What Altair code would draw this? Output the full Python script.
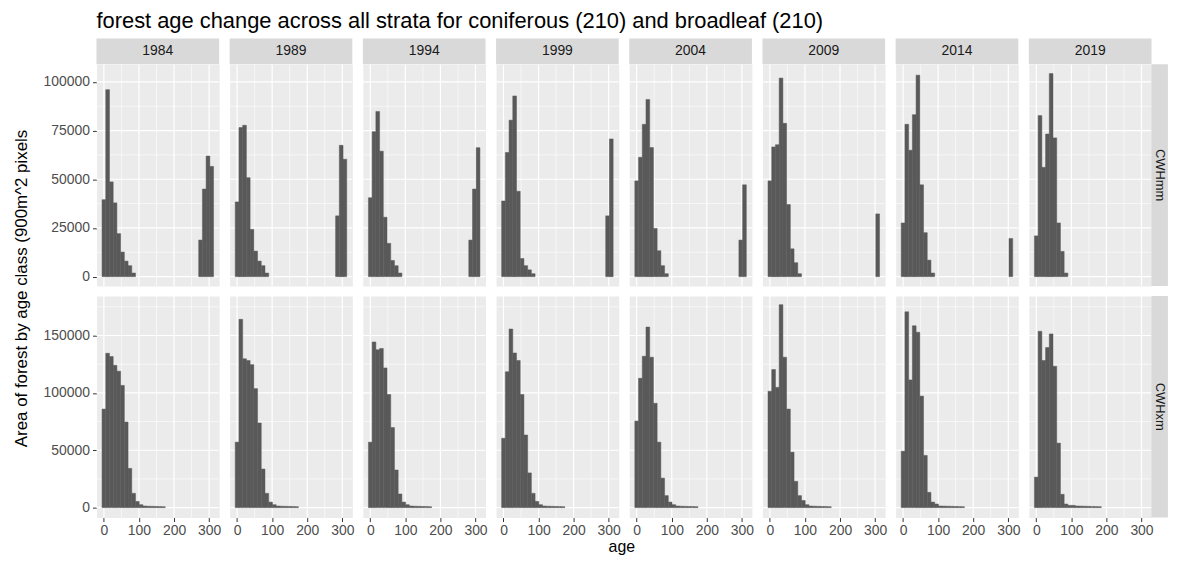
import altair as alt
import pandas as pd

# ---------------- data ----------------
years = ["1984", "1989", "1994", "1999", "2004", "2009", "2014", "2019"]
zones = ["CWHmm", "CWHxm"]

# histogram bins (30 bins, ggplot default)
BIN_START = -5.3
BIN_WIDTH = 10.6
N_BINS = 30

# CWHmm: young-age bins (starting at bin 0)
mm_young_1984 = [39500, 96000, 48650, 37850, 22070, 12600, 7970, 5630, 1840]
mm_young_1989 = [38350, 76500, 77700, 50800, 24250, 13100, 7970, 5630, 1840]
mm_young_1994 = [40500, 74400, 84800, 64400, 30500, 17100, 8300, 5600, 1840]
mm_young_1999 = [38840, 63740, 80330, 92780, 43820, 9300, 5630, 3490, 1500]
mm_young_2004 = [49150, 61250, 78190, 90970, 66230, 24750, 13280, 5630, 1500]
mm_young_2009 = [49150, 66580, 67730, 101930, 78680, 37000, 14280, 7140, 1500]
mm_young_2014 = [27550, 78190, 64900, 83170, 103430, 47140, 22570, 8470, 1840]
mm_young_2019 = [20920, 82670, 56110, 73200, 104240, 71210, 27550, 12950, 1840]

# CWHmm: old-age bins (ending at the last bin)
mm_old_1984 = [18770, 44970, 61900, 56600]
mm_old_1989 = [31200, 67400, 60260]
mm_old_1994 = [18770, 44970, 66200]
mm_old_1999 = [31200, 70700]
mm_old_2004 = [18770, 47140]
mm_old_2009 = [32200]
mm_old_2014 = [19590]
mm_old_2019 = []

# CWHxm: bins starting at bin 0
xm_1984 = [85860, 134500, 131650, 124000, 118900, 106500, 74580, 34180, 12430, 5370, 2540,
           1400, 1200, 1100, 1000, 900, 800]
xm_1989 = [57060, 164100, 129700, 128250, 124600, 103700, 73730, 33610, 12430, 4800, 2540,
           1400, 1200, 1100, 1000, 900, 800]
xm_1994 = [57040, 144350, 137600, 138700, 121760, 98600, 69780, 32770, 11860, 4800, 2540,
           1400, 1200, 1100, 1000, 900, 800]
xm_1999 = [60440, 118360, 155660, 134750, 128250, 98600, 63280, 30230, 12430, 5370, 2540,
           1400, 1200, 1100, 1000, 900, 800]
xm_2004 = [75430, 112700, 131930, 157340, 131080, 90950, 57060, 25700, 10450, 4800, 2540,
           1400, 1200, 1100, 1000, 900, 800]
xm_2009 = [101400, 120350, 104800, 176850, 131080, 85880, 48310, 22880, 10450, 6210, 2540,
           1400, 1200, 1100, 1000, 900, 800]
xm_2014 = [49150, 170630, 111300, 158480, 152830, 97180, 45480, 13300, 4800, 3110,
           1400, 1300, 1200, 1100, 1000, 900, 800]
xm_2019 = [26550, 153680, 128250, 139550, 151410, 123170, 56210, 11580, 3110, 1950, 1950,
           1400, 1300, 1200, 1100, 1000, 900, 800]

mm_young = [mm_young_1984, mm_young_1989, mm_young_1994, mm_young_1999,
            mm_young_2004, mm_young_2009, mm_young_2014, mm_young_2019]
mm_old = [mm_old_1984, mm_old_1989, mm_old_1994, mm_old_1999,
          mm_old_2004, mm_old_2009, mm_old_2014, mm_old_2019]
xm_all = [xm_1984, xm_1989, xm_1994, xm_1999, xm_2004, xm_2009, xm_2014, xm_2019]

x_major = [0, 100, 200, 300]
x_minor = [50, 150, 250]
y_major = {"CWHmm": [0, 25000, 50000, 75000, 100000], "CWHxm": [0, 50000, 100000, 150000]}
y_minor = {"CWHmm": [12500, 37500, 62500, 87500], "CWHxm": [25000, 75000, 125000, 175000]}

title_text = "forest age change across all strata for coniferous (210) and broadleaf (210)"
y_title = "Area of forest by age class (900m^2 pixels"
x_title = "age"

# ---------------- build table ----------------
rows = []
for yr, young, old, xm in zip(years, mm_young, mm_old, xm_all):
    for k, v in enumerate(young):
        rows.append({"year": yr, "zone": "CWHmm", "k": k, "value": v})
    for j, v in enumerate(old):
        rows.append({"year": yr, "zone": "CWHmm", "k": N_BINS - len(old) + j, "value": v})
    for k, v in enumerate(xm):
        rows.append({"year": yr, "zone": "CWHxm", "k": k, "value": v})
bars = pd.DataFrame(rows)
bars["x0"] = BIN_START + bars["k"] * BIN_WIDTH
bars["x1"] = bars["x0"] + BIN_WIDTH
bars["base"] = 0

# ---------------- styling ----------------
FONT = "Liberation Sans"
W = 123.4
H = 223
STRIP_H = 26
STRIP_W = 16.5
X_DOMAIN = [-21.2, 328.6]
Y_DOMAIN = {"CWHmm": [-4800, 109000], "CWHxm": [-8700, 184500]}
BAR = "#595959"
STRIP = "#D9D9D9"
LABEL = "#4D4D4D"
TICK = "#333333"


def panel(zone, yr, ci, ri):
    sub = bars[(bars.zone == zone) & (bars.year == yr)]
    xs = alt.Scale(domain=X_DOMAIN, nice=False, zero=False)
    ys = alt.Scale(domain=Y_DOMAIN[zone], nice=False, zero=False)

    if ri == 1:
        xkw = dict(values=x_major, grid=False, domain=False, tickColor=TICK, tickSize=4,
                   labelColor=LABEL, labelFontSize=14, labelPadding=2, labelFlush=False,
                   labelFont=FONT, title=None)
        if ci == 3:
            xkw.update(title=x_title, titleX=126, titleY=29, titleBaseline="middle",
                       titleFontSize=16, titleFontWeight="normal", titleColor="black",
                       titleFont=FONT, titleAlign="center")
        xaxis = alt.Axis(**xkw)
    else:
        xaxis = None

    if ci == 0:
        ykw = dict(values=y_major[zone], format="d", grid=False, domain=False,
                   tickColor=TICK, tickSize=4, labelColor=LABEL, labelFontSize=14,
                   labelPadding=3, labelFont=FONT, title=None)
        if ri == 0:
            ykw.update(title=y_title, titleX=-75, titleY=225, titleAngle=270,
                       titleBaseline="middle", titleAlign="center", titleFontSize=17,
                       titleFontWeight="normal", titleColor="black", titleFont=FONT)
        yaxis = alt.Axis(**ykw)
    else:
        yaxis = None

    def rules(vals, channel, width):
        df = pd.DataFrame({"v": vals})
        base = alt.Chart(df).mark_rule(color="white", strokeWidth=width)
        if channel == "x":
            return base.encode(x=alt.X("v:Q", scale=xs, axis=xaxis))
        return base.encode(y=alt.Y("v:Q", scale=ys, axis=yaxis))

    layers = [
        rules(x_minor, "x", 0.6),
        rules(y_minor[zone], "y", 0.6),
        rules(x_major, "x", 1.2),
        rules(y_major[zone], "y", 1.2),
        alt.Chart(sub).mark_rect(color=BAR, stroke=BAR, strokeWidth=0.5).encode(
            x=alt.X("x0:Q", scale=xs, axis=xaxis),
            x2="x1:Q",
            y=alt.Y("value:Q", scale=ys, axis=yaxis),
            y2="base:Q",
        ),
    ]

    if ri == 0:
        lab = pd.DataFrame({"label": [yr]})
        layers.append(alt.Chart(lab).mark_rect(color=STRIP).encode(
            x=alt.value(0), x2=alt.value(W), y=alt.value(-STRIP_H), y2=alt.value(0)))
        layers.append(alt.Chart(lab).mark_text(font=FONT, fontSize=14, color="#1A1A1A",
                                               baseline="middle", align="center").encode(
            x=alt.value(W / 2), y=alt.value(-STRIP_H / 2), text="label:N"))
    if ci == len(years) - 1:
        lab = pd.DataFrame({"label": [zone]})
        layers.append(alt.Chart(lab).mark_rect(color=STRIP).encode(
            x=alt.value(W), x2=alt.value(W + STRIP_W), y=alt.value(0), y2=alt.value(H)))
        layers.append(alt.Chart(lab).mark_text(font=FONT, fontSize=13, color="#1A1A1A",
                                               baseline="middle", align="center",
                                               angle=90).encode(
            x=alt.value(W + STRIP_W / 2), y=alt.value(H / 2), text="label:N"))

    return alt.layer(*layers).properties(width=W, height=H)


cells = []
for ri, zone in enumerate(zones):
    for ci, yr in enumerate(years):
        cells.append(panel(zone, yr, ci, ri))

chart = alt.concat(*cells, columns=8, spacing=10, bounds="flush").properties(
    title=alt.TitleParams(title_text, anchor="start", frame="group", fontSize=22,
                          font=FONT, fontWeight="normal", color="black", offset=5),
    padding={"left": 4, "top": 0, "right": 0, "bottom": 0},
    background="white",
).configure_view(fill="#EBEBEB", stroke="transparent")

chart.save("out.html", embed_options={"renderer": "svg", "actions": False})
